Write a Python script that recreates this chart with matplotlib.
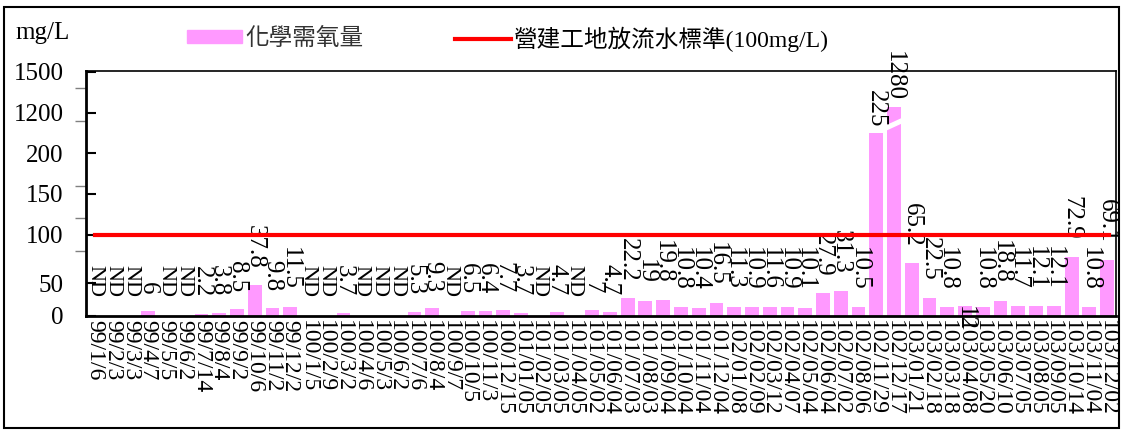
import matplotlib
matplotlib.use("Agg")
import matplotlib.pyplot as plt
from matplotlib.patches import Polygon

plt.rcParams['font.family'] = ['Liberation Serif', 'Noto Sans CJK TC']

dates = ['99/1/6', '99/2/3', '99/3/3', '99/4/7', '99/5/5', '99/6/2', '99/7/14',
         '99/8/4', '99/9/2', '99/10/6', '99/11/2', '99/12/2',
         '100/1/5', '100/2/9', '100/3/2', '100/4/6', '100/5/3', '100/6/2',
         '100/7/6', '100/8/4', '100/9/7', '100/10/5', '100/11/3', '100/12/15',
         '101/01/05', '101/02/05', '101/03/05', '101/04/05', '101/05/02',
         '101/06/04', '101/07/03', '101/08/03', '101/09/04', '101/10/04',
         '101/11/04', '101/12/04',
         '102/01/08', '102/02/09', '102/03/12', '102/04/07', '102/05/04',
         '102/06/04', '102/07/02', '102/08/06', '102/11/29', '102/12/17',
         '103/01/21', '103/02/18', '103/03/18', '103/04/08', '103/05/20',
         '103/06/10', '103/07/05', '103/08/05', '103/09/05', '103/10/14',
         '103/11/04', '103/12/02']

# None = ND (not detected)
cod = [None, None, None, 6, None, None, 2.2, 3.8, 8.5, 37.8, 9.8, 11.5,
       None, None, 3.7, None, None, None, 5.3, 9.3, None, 6.5, 6.4, 7.7,
       3.7, None, 4.7, None, 7, 4.7, 22.2, 19, 19.8, 10.8, 10.4, 16.5,
       11.3, 10.9, 11.6, 10.9, 10.1, 27.9, 31.3, 10.5, 225, 1280,
       65.2, 22.5, 10.8, 12, 10.8, 18.8, 11.7, 12.1, 12.1, 72.9, 10.8, 69.1]

standard = 100

# broken y axis: real positions -> shown labels
tick_pos = [0, 40, 100, 150, 200, 250, 300]
tick_txt = ['0', '50', '100', '150', '200', '1200', '1500']

pink = '#ff99ff'
cap = 257   # bars above the axis range are drawn broken at this height

fig = plt.figure(figsize=(11.22, 4.30), dpi=100)
ax = fig.add_axes([86 / 1122, 114 / 430, 1030 / 1122, 245 / 430])

x = list(range(len(dates)))
heights = [0 if v is None else min(v, cap) for v in cod]
ax.bar(x, heights, width=0.78, color=pink, zorder=2)

# break mark on the tall bar
for i, v in enumerate(cod):
    if v is not None and v > 300:
        pts = [(i - 0.5, 228), (i + 0.5, 238), (i + 0.5, 243), (i - 0.5, 233)]
        ax.add_patch(Polygon(pts, closed=True, color='white', zorder=3))

ax.plot([0, len(dates) - 0.9], [standard, standard], color='#ff0000', lw=3, zorder=4)

# data labels, rotated like the source chart
for i, v in enumerate(cod):
    if v is None:
        ax.annotate('ND', (i, 0), xytext=(0, 14), textcoords='offset points',
                    rotation=270, ha='center', va='bottom', fontsize=16)
    else:
        off = 4 if v > 200 else 12
        if i == 49:
            off = -18
        ax.annotate(f'{v:g}', (i, min(v, cap)), xytext=(0, off),
                    textcoords='offset points', rotation=270, ha='center',
                    va='bottom', fontsize=18, annotation_clip=False)

ax.set_xlim(-0.5, len(dates) - 0.5)
ax.set_ylim(0, 301)
ax.set_xticks(x)
ax.set_xticklabels(dates, rotation=270, fontsize=17)
ax.tick_params(axis='x', length=0, pad=3)
ax.set_yticks(tick_pos)
ax.set_yticklabels(tick_txt, fontsize=18)
ax.tick_params(axis='y', direction='in', length=7, width=1.5, pad=16)
ax.set_yticks([40, 80, 120, 160, 200, 240, 280], minor=True)
ax.tick_params(axis='y', which='minor', direction='out', length=8, color='#808080', width=1)
for s in ax.spines.values():
    s.set_linewidth(1.2)
ax.spines['left'].set_linewidth(2)
ax.spines['bottom'].set_linewidth(2)

fig.text(15 / 1122, 1 - 33 / 430, 'mg/L', fontsize=18, va='center')

# legend drawn in figure coords
fig.patches.append(plt.Rectangle((187 / 1122, 1 - 43 / 430), 55 / 1122, 13 / 430,
                                 transform=fig.transFigure, color=pink))
fig.text(245 / 1122, 1 - 39 / 430, '化學需氧量', fontsize=17, va='center', color='#333333')
fig.lines.append(plt.Line2D([455 / 1122, 511 / 1122], [1 - 39 / 430, 1 - 39 / 430],
                            transform=fig.transFigure, color='#ff0000', lw=3))
fig.text(514 / 1122, 1 - 39 / 430, '營建工地放流水標準(100mg/L)', fontsize=17, va='center')

fig.patches.append(plt.Rectangle((4 / 1122, 2 / 430), 1115 / 1122, 421 / 430, fill=False,
                                 transform=fig.transFigure, lw=1.5, ec='black'))

fig.savefig('out.png', dpi=100)
